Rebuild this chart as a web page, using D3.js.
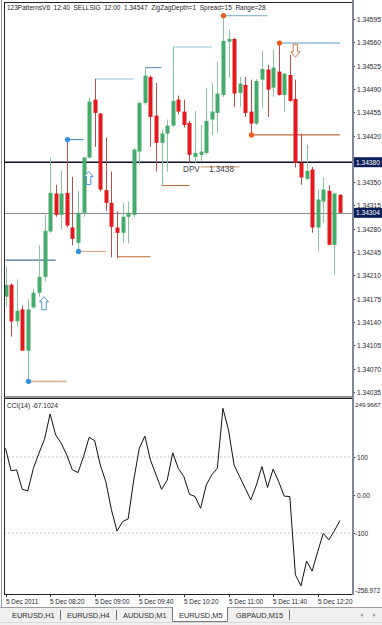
<!DOCTYPE html>
<html>
<head>
<meta charset="utf-8">
<script src="https://cdn.jsdelivr.net/npm/d3@7"></script>
<style>
body { margin: 0; background: #fff; }
svg { display: block; font-family: "Liberation Sans", Arial, sans-serif; }
</style>
</head>
<body>
<svg id="chart" width="382" height="625"></svg>
<script>
// EURUSD M5 bars, 5 Dec 2011
var times = ["07:40","07:45","07:50","07:55","08:00","08:05","08:10","08:15","08:20","08:25",
  "08:30","08:35","08:40","08:45","08:50","08:55","09:00","09:05","09:10","09:15",
  "09:20","09:25","09:30","09:35","09:40","09:45","09:50","09:55","10:00","10:05",
  "10:10","10:15","10:20","10:25","10:30","10:35","10:40","10:45","10:50","10:55",
  "11:00","11:05","11:10","11:15","11:20","11:25","11:30","11:35","11:40","11:45",
  "11:50","11:55","12:00","12:05","12:10","12:15","12:20","12:25","12:30","12:35","12:40"];

var opens = [1.34178,1.34196,1.34141,1.34159,1.34097,1.34162,1.34184,1.34208,1.34276,1.34333,
  1.34301,1.34334,1.34282,1.34259,1.34304,1.34387,1.34474,1.34453,1.34338,1.34319,
  1.34282,1.34274,1.34298,1.34301,1.34396,1.34469,1.34508,1.34450,1.34409,1.34423,
  1.34435,1.34474,1.34456,1.34439,1.34388,1.34391,1.34394,1.34444,1.34454,1.34481,
  1.34561,1.34565,1.34484,1.34496,1.34456,1.34438,1.34504,1.34519,1.34492,1.34516,
  1.34481,1.34511,1.34475,1.34379,1.34355,1.34369,1.34282,1.34321,1.34337,1.34256,1.34331];
var highs = [1.34223,1.34198,1.34204,1.34165,1.34174,1.34190,1.34255,1.34301,1.34387,1.34346,
  1.34367,1.34414,1.34358,1.34337,1.34388,1.34477,1.34505,1.34454,1.34417,1.34366,
  1.34306,1.34319,1.34321,1.34402,1.34471,1.34522,1.34510,1.34499,1.34429,1.34444,
  1.34553,1.34480,1.34474,1.34442,1.34457,1.34436,1.34492,1.34499,1.34531,1.34600,
  1.34579,1.34567,1.34508,1.34508,1.34504,1.34505,1.34547,1.34526,1.34549,1.34559,
  1.34514,1.34541,1.34504,1.34423,1.34406,1.34373,1.34339,1.34357,1.34345,1.34334,1.34332];
var lows = [1.34163,1.34118,1.34133,1.34097,1.34051,1.34160,1.34178,1.34201,1.34274,1.34298,
  1.34279,1.34282,1.34255,1.34246,1.34298,1.34385,1.34403,1.34336,1.34307,1.34237,
  1.34236,1.34259,1.34258,1.34297,1.34376,1.34466,1.34403,1.34366,1.34345,1.34366,
  1.34433,1.34452,1.34432,1.34379,1.34379,1.34381,1.34391,1.34421,1.34424,1.34478,
  1.34507,1.34463,1.34463,1.34448,1.34423,1.34436,1.34462,1.34448,1.34478,1.34480,
  1.34456,1.34471,1.34372,1.34346,1.34353,1.34274,1.34246,1.34289,1.34255,1.34211,1.34304];
var closes = [1.34196,1.34141,1.34157,1.34097,1.34159,1.34184,1.34208,1.34277,1.34334,1.34301,
  1.34333,1.34285,1.34265,1.34304,1.34387,1.34471,1.34454,1.34339,1.34319,1.34283,
  1.34274,1.34298,1.34304,1.34399,1.34469,1.34510,1.34448,1.34409,1.34423,1.34435,
  1.34472,1.34456,1.34436,1.34391,1.34394,1.34396,1.34442,1.34456,1.34483,1.34562,
  1.34565,1.34483,1.34498,1.34454,1.34438,1.34502,1.34520,1.34489,1.34522,1.34481,
  1.34513,1.34472,1.34379,1.34357,1.34367,1.34282,1.34324,1.34339,1.34256,1.34333,1.34304];

// CCI(14)
var cci = [123,64,66,15,11,70,110,147,213,158,
  136,105,66,59,101,152,143,79,35,-39,
  -95,-70,-63,39,123,155,92,53,15,39,
  111,70,48,2,-4,-35,26,53,70,228,
  171,79,48,18,-13,26,75,20,68,35,
  -3,-4,-210,-239,-174,-200,-149,-101,-118,-94,-67.1024];

var priceTicks = [1.34595,1.34560,1.34525,1.34490,1.34455,1.34420,1.34385,1.34350,1.34315,
  1.34280,1.34245,1.34210,1.34175,1.34140,1.34105,1.34070,1.34035];
var markedPrices = [1.34380, 1.34304];   // DPV level, bid
var cciLevels = [100, 0, -100];
var cciRange = [249.9667, -258.972];

var timeLabelBars = [0,8,16,24,32,40,48,56];
var timeLabels = ["5 Dec 2011","5 Dec 08:20","5 Dec 09:00","5 Dec 09:40","5 Dec 10:20",
  "5 Dec 11:00","5 Dec 11:40","5 Dec 12:20"];

// pattern indicator levels (bar from, bar to, price, kind)
var levelStart = [16,25,30,39,49,44,20,28,13,4,11,0,35];
var levelEnd   = [23,28,37,47,60,60,26,33,18,11,14,9,42];
var levelPrice = [1.34505,1.34522,1.34553,1.34600,1.34559,1.34421,1.34238,1.34345,1.34246,1.34051,1.34414,1.34233,1.34373];
var levelKind  = ["hi","hi2","hi","hi","hiBold","lo","lo","lo","tan","tanBold","blue","blue2","tan"];

var dotBars   = [4,11,13,39,44,49];
var dotPrices = [1.34051,1.34414,1.34246,1.34600,1.34421,1.34559];
var dotKind   = ["buy","buy","buy","sell","sell","sell"];

var upBars = [7,15];
var upPrices = [1.34178,1.34366];
var downBars = [52];
var downPrices = [1.34557];

var tabNames = ["EURUSD,H1","EURUSD,H4","AUDUSD,M1","EURUSD,M5","GBPAUD,M15"];
var activeTab = 3;

// ---------------------------------------------------------------
var svg = d3.select("#chart");
var plotL = 4, plotR = 352, mainT = 3, mainB = 397, cciT = 398, cciB = 594;

var x = d3.scalePoint().domain(times).range([5.5, 340]);
var y = d3.scaleLinear().domain([1.34035, 1.34595]).range([392, 19]);
var yc = d3.scaleLinear().domain([-100, 100]).range([533, 457]);

var levelColors = {hi: "#93bfd4", hi2: "#5f93b5", hiBold: "#a9cde0", lo: "#c06a3a",
  tan: "#dba57c", tanBold: "#dcb898", blue: "#4a8fc6", blue2: "#4a7394"};
var greenBody = "#44ab6a", redBody = "#e3191c";

svg.append("rect").attr("width", 382).attr("height", 625).attr("fill", "#fff");

var defs = svg.append("defs");
defs.append("clipPath").attr("id", "mainClip").append("rect")
  .attr("x", plotL).attr("y", mainT).attr("width", plotR - plotL).attr("height", mainB - mainT);
defs.append("clipPath").attr("id", "cciClip").append("rect")
  .attr("x", plotL).attr("y", cciT).attr("width", plotR - plotL).attr("height", cciB - cciT);

var main = svg.append("g").attr("clip-path", "url(#mainClip)");

// full-width lines: bid and DPV
main.append("line")
  .attr("x1", plotL).attr("x2", plotR)
  .attr("y1", Math.round(y(markedPrices[1])) + 0.5).attr("y2", Math.round(y(markedPrices[1])) + 0.5)
  .attr("stroke", "#8c8c8c").attr("stroke-width", 1);
main.append("line")
  .attr("x1", plotL).attr("x2", plotR)
  .attr("y1", y(markedPrices[0])).attr("y2", y(markedPrices[0]))
  .attr("stroke", "#0d0d2a").attr("stroke-width", 1.6);

// indicator levels
levelStart.forEach(function(s, i) {
  main.append("line")
    .attr("x1", x(times[s])).attr("x2", x(times[levelEnd[i]]))
    .attr("y1", y(levelPrice[i])).attr("y2", y(levelPrice[i]))
    .attr("stroke", levelColors[levelKind[i]])
    .attr("stroke-width", (levelKind[i] == "hiBold" || levelKind[i] == "tanBold") ? 1.8 : 1.1);
});

// candles
var bars = times.map(function(t, i) {
  return {t: t, o: opens[i], h: highs[i], l: lows[i], c: closes[i]};
});

var candle = main.selectAll(".candle").data(bars).enter().append("g").attr("class", "candle");
candle.append("line")
  .attr("x1", function(d) { return Math.round(x(d.t)) + 0.5; })
  .attr("x2", function(d) { return Math.round(x(d.t)) + 0.5; })
  .attr("y1", function(d) { return y(d.h); })
  .attr("y2", function(d) { return y(d.l); })
  .attr("stroke", function(d) { return d.c >= d.o ? "#86c49c" : "#b2504e"; })
  .attr("stroke-width", 1);
candle.append("rect")
  .attr("x", function(d) { return Math.round(x(d.t)) - 1.5; })
  .attr("width", 4)
  .attr("y", function(d) { return y(Math.max(d.o, d.c)); })
  .attr("height", function(d) { return Math.max(1, Math.abs(y(d.o) - y(d.c))); })
  .attr("fill", function(d) { return d.c >= d.o ? greenBody : redBody; });

// zigzag dots
dotBars.forEach(function(b, i) {
  main.append("circle")
    .attr("cx", Math.round(x(times[b])) + 0.5).attr("cy", y(dotPrices[i])).attr("r", 2.6)
    .attr("fill", dotKind[i] == "buy" ? "#2f8fe0" : "#ee5a1c");
});

// signal arrows
upBars.forEach(function(b, i) {
  var cx = x(times[b]) - 0.5, ty = y(upPrices[i]);
  main.append("path")
    .attr("d", "M" + cx + "," + ty + " l4.5,5 l-2.3,0 l0,8 l-4.4,0 l0,-8 l-2.3,0 Z")
    .attr("fill", "#fff").attr("stroke", "#4d93d3").attr("stroke-width", 1);
});
downBars.forEach(function(b, i) {
  var cx = x(times[b]), ty = y(downPrices[i]);
  main.append("path")
    .attr("d", "M" + (cx - 2.2) + "," + ty + " l4.4,0 l0,7.5 l2.3,0 l-4.5,5.5 l-4.5,-5.5 l2.3,0 Z")
    .attr("fill", "#fff").attr("stroke", "#d27a4a").attr("stroke-width", 1);
});

// DPV label
main.append("text")
  .attr("x", 183).attr("y", 171.5)
  .attr("font-size", 8.2).attr("fill", "#3b3b4a")
  .style("white-space", "pre")
  .text("DPV    1.3438");

// title
svg.append("text")
  .attr("x", 7).attr("y", 10)
  .attr("font-size", 6.5).attr("fill", "#1c1c1c")
  .style("white-space", "pre")
  .text("123PatternsV6  12:40  SELLSIG  12:00  1.34547  ZigZagDepth=1  Spread=15  Range=28");

// price axis (labels hidden under the marked-price boxes are skipped)
var axisG = svg.append("g");
priceTicks.forEach(function(p) {
  var yy = Math.round(y(p)) + 0.5;
  axisG.append("line").attr("x1", plotR).attr("x2", plotR + 3).attr("y1", yy).attr("y2", yy)
    .attr("stroke", "#333").attr("stroke-width", 1);
  var hidden = markedPrices.some(function(m) { return Math.abs(y(m) - y(p)) < 7; });
  if (hidden) return;
  axisG.append("text").attr("x", 357).attr("y", yy + 2.4)
    .attr("font-size", 6.6).attr("fill", "#1e1e2e").text(d3.format(".5f")(p));
});
markedPrices.forEach(function(p) {
  var yy = y(p);
  axisG.append("rect").attr("x", 353).attr("y", yy - 5).attr("width", 29).attr("height", 10)
    .attr("fill", "#0b1f5a");
  axisG.append("text").attr("x", 356).attr("y", yy + 2.4)
    .attr("font-size", 6.6).attr("fill", "#fff").text(d3.format(".5f")(p));
});

// CCI panel
var cciG = svg.append("g").attr("clip-path", "url(#cciClip)");
[100, -100].forEach(function(v) {
  cciG.append("line").attr("x1", plotL).attr("x2", plotR)
    .attr("y1", yc(v)).attr("y2", yc(v))
    .attr("stroke", "#c4c4c4").attr("stroke-width", 1).attr("stroke-dasharray", "2,2");
});
var cciLine = d3.line()
  .x(function(d, i) { return x(times[i]); })
  .y(function(d) { return yc(d); });
cciG.append("path").datum(cci).attr("d", cciLine)
  .attr("fill", "none").attr("stroke", "#111").attr("stroke-width", 1);

svg.append("text").attr("x", 7).attr("y", 408)
  .attr("font-size", 6.6).attr("fill", "#1c1c1c").text("CCI(14) -67.1024");

cciLevels.forEach(function(v) {
  var yy = Math.round(yc(v)) + 0.5;
  svg.append("line").attr("x1", plotR).attr("x2", plotR + 3).attr("y1", yy).attr("y2", yy)
    .attr("stroke", "#333");
  svg.append("text").attr("x", v < 0 ? 355 : 357).attr("y", yy + 2.4)
    .attr("font-size", 6.6).attr("fill", "#1e1e2e").text(v == 0 ? "0.00" : String(v));
});
svg.append("text").attr("x", 355).attr("y", 406.5)
  .attr("font-size", 6.2).attr("fill", "#1e1e2e").text(String(cciRange[0]));
svg.append("text").attr("x", 355).attr("y", 593)
  .attr("font-size", 6.4).attr("fill", "#1e1e2e").text(String(cciRange[1]));

// time axis
timeLabelBars.forEach(function(b, i) {
  var xx = Math.round(x(times[b])) + 0.5;
  svg.append("line").attr("x1", xx).attr("x2", xx).attr("y1", cciB).attr("y2", cciB + 3)
    .attr("stroke", "#333");
  svg.append("text").attr("x", xx - 0.5).attr("y", 604)
    .attr("font-size", 6.4).attr("fill", "#1e1e2e").text(timeLabels[i]);
});

// frames
var frame = svg.append("g").attr("fill", "none");
frame.append("line").attr("x1", 1.5).attr("x2", 1.5).attr("y1", 0).attr("y2", 607).attr("stroke", "#9a9a9a");
frame.append("rect").attr("x", plotL + 0.5).attr("y", mainT - 0.5).attr("width", plotR - plotL)
  .attr("height", mainB - mainT + 0.5).attr("stroke", "#222");
frame.append("rect").attr("x", plotL + 0.5).attr("y", cciT + 0.5).attr("width", plotR - plotL)
  .attr("height", cciB - cciT).attr("stroke", "#222");
frame.append("line").attr("x1", plotR + 1).attr("x2", plotR + 1).attr("y1", 0).attr("y2", cciB + 1)
  .attr("stroke", "#7d8798").attr("stroke-width", 2);

// tab strip
var tabY = 607;
svg.append("rect").attr("x", 0).attr("y", tabY).attr("width", 382).attr("height", 18).attr("fill", "#f0f0f0");
svg.append("line").attr("x1", 0).attr("x2", 382).attr("y1", tabY + 0.5).attr("y2", tabY + 0.5).attr("stroke", "#9c9c9c");
svg.append("line").attr("x1", 0).attr("x2", 382).attr("y1", 622.5).attr("y2", 622.5).attr("stroke", "#d8d8d8");
var tabX = [12, 67, 123, 179, 236];
var sepX = [60, 116, 289];
tabNames.forEach(function(n, i) {
  if (i == activeTab) {
    svg.append("path")
      .attr("d", "M172.5," + tabY + " L172.5,621.5 L227.5,621.5 L227.5," + tabY)
      .attr("fill", "#fff").attr("stroke", "#7a7a7a");
  }
  svg.append("text").attr("x", tabX[i]).attr("y", 618)
    .attr("font-size", 7.4).attr("fill", "#2a2a2a").text(n);
});
sepX.forEach(function(s) {
  svg.append("line").attr("x1", s + 0.5).attr("x2", s + 0.5).attr("y1", 610).attr("y2", 620)
    .attr("stroke", "#707070");
});
svg.append("path").attr("d", "M360,615 L363,613 L363,617 Z").attr("fill", "#a0a0a0");
svg.append("path").attr("d", "M376,615 L373,613 L373,617 Z").attr("fill", "#a0a0a0");
</script>
</body>
</html>
